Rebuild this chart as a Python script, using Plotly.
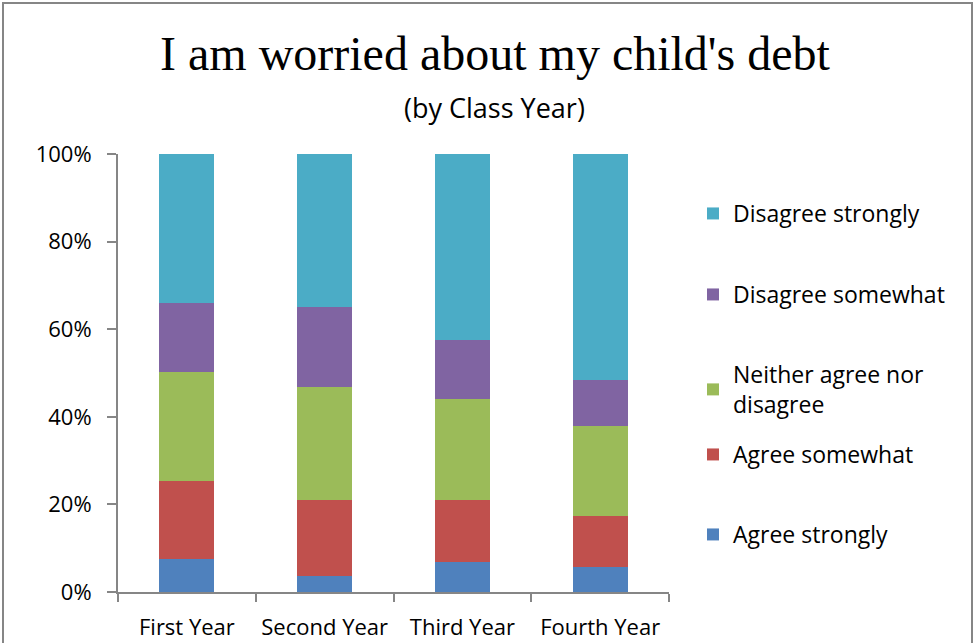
import plotly.graph_objects as go

categories = ["First Year", "Second Year", "Third Year", "Fourth Year"]
agree_strongly = [7.6, 3.7, 6.9, 5.8]
agree_somewhat = [17.8, 17.2, 14.0, 11.6]
neither = [24.8, 25.9, 23.1, 20.5]
disagree_somewhat = [15.8, 18.2, 13.5, 10.5]
disagree_strongly = [34.0, 35.0, 42.5, 51.6]

series_names = ["Agree strongly", "Agree somewhat", "Neither agree nor<br>disagree",
                "Disagree somewhat", "Disagree strongly"]
series_values = [agree_strongly, agree_somewhat, neither, disagree_somewhat, disagree_strongly]
series_colors = ["#4F81BD", "#C0504D", "#9BBB59", "#8064A2", "#4BACC6"]
# vertical pixel position of the first text line of each legend entry
legend_line_y = [536, 456, 376, 296, 215]

FONT = "Open Sans, sans-serif"
GRAY = "#868686"

W, H = 978, 643
L, R, T, B = 118, 978 - 669, 154, 643 - 592
pw, ph = W - L - R, H - T - B

def px_x(x):
    return (x - L) / pw

def px_y(y):
    return (H - B - y) / ph

fig = go.Figure()
legend_layout = {}
for i, (name, vals, col, ly) in enumerate(zip(series_names, series_values, series_colors, legend_line_y)):
    key = "legend" if i == 0 else f"legend{i + 1}"
    fig.add_trace(go.Bar(
        x=categories, y=[v / 100 for v in vals], name=name,
        marker=dict(color=col, line=dict(width=0)),
        legend=key,
    ))
    legend_layout[key] = dict(
        x=px_x(693), y=px_y(ly - 23), xanchor="left", yanchor="top",
        font=dict(family=FONT, size=23, color="black"),
        bgcolor="rgba(0,0,0,0)", itemwidth=30, borderwidth=0,
    )

fig.update_layout(
    width=W, height=H,
    margin=dict(l=L, r=R, t=T, b=B, pad=0, autoexpand=False),
    barmode="stack", bargap=0.6,
    paper_bgcolor="white", plot_bgcolor="white",
    font=dict(family=FONT, size=22, color="black"),
    showlegend=True,
    xaxis=dict(
        showline=True, linecolor=GRAY, linewidth=2,
        ticks="outside", ticklen=8, tickcolor=GRAY, tickwidth=2,
        tickson="boundaries", showgrid=False, automargin=False,
        tickfont=dict(family=FONT, size=22, color="black"),
        ticklabelstandoff=15,
    ),
    yaxis=dict(
        range=[0, 1], dtick=0.2, tickformat=".0%",
        showline=True, linecolor=GRAY, linewidth=2,
        ticks="outside", ticklen=9, tickcolor=GRAY, tickwidth=2,
        showgrid=False, zeroline=False, automargin=False,
        tickfont=dict(family=FONT, size=22, color="black"),
        ticklabelstandoff=11,
    ),
    annotations=[
        dict(text="I am worried about my child's debt", xref="paper", yref="paper",
             x=px_x(495), y=px_y(54), xanchor="center", yanchor="middle", showarrow=False,
             font=dict(family="Liberation Serif, Times New Roman, serif", size=48, color="black")),
        dict(text="(by Class Year)", xref="paper", yref="paper",
             x=px_x(494), y=px_y(108), xanchor="center", yanchor="middle", showarrow=False,
             font=dict(family=FONT, size=27, color="black")),
    ],
    shapes=[
        dict(type="rect", xref="paper", yref="paper",
             x0=px_x(3), x1=px_x(972), y0=px_y(680), y1=px_y(3),
             line=dict(color=GRAY, width=2), fillcolor="rgba(0,0,0,0)", layer="below"),
    ],
    **legend_layout,
)

fig.write_html("out.html", config={"displayModeBar": False},
               post_script="document.body.style.margin='0';")
